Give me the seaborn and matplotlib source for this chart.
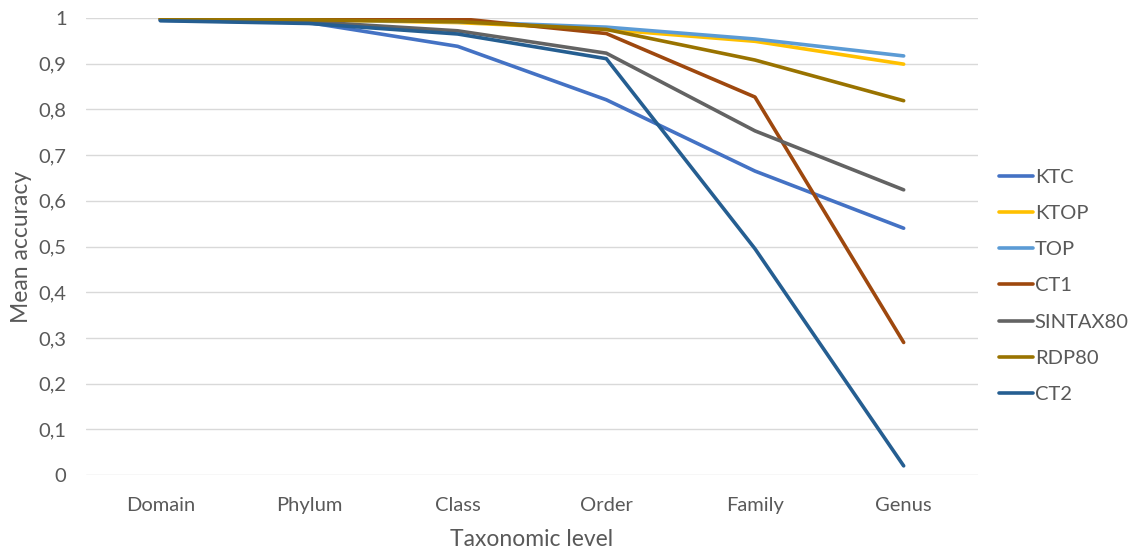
import matplotlib
matplotlib.use("Agg")
import matplotlib.pyplot as plt
import seaborn as sns
import pandas as pd
from matplotlib.ticker import FuncFormatter

levels = ["Domain", "Phylum", "Class", "Order", "Family", "Genus"]

ktc = [0.995, 0.990, 0.938, 0.821, 0.665, 0.540]
ktop = [0.998, 0.996, 0.990, 0.975, 0.949, 0.899]
top = [0.998, 0.996, 0.992, 0.980, 0.954, 0.917]
ct1 = [0.998, 0.997, 0.999, 0.966, 0.827, 0.290]
sintax80 = [0.996, 0.992, 0.972, 0.923, 0.753, 0.624]
rdp80 = [0.998, 0.996, 0.992, 0.975, 0.908, 0.819]
ct2 = [0.994, 0.988, 0.965, 0.911, 0.495, 0.020]

series = {
    "KTC": ktc,
    "KTOP": ktop,
    "TOP": top,
    "CT1": ct1,
    "SINTAX80": sintax80,
    "RDP80": rdp80,
    "CT2": ct2,
}
colors = ["#4472C4", "#FFC000", "#5B9BD5", "#9E480E", "#636363", "#997300", "#255E91"]

rows = []
for name, vals in series.items():
    for i, (lvl, v) in enumerate(zip(levels, vals)):
        rows.append({"pos": i, "level": lvl, "method": name, "acc": v})
df = pd.DataFrame(rows)

sns.set_theme(style="white")
plt.rcParams["font.family"] = ["Lato", "DejaVu Sans"]
text_color = "#595959"

fig = plt.figure(figsize=(11.34, 5.54), dpi=100)
ax = fig.add_axes([86 / 1134, 1 - 475 / 554, (978 - 86) / 1134, (475 - 18) / 554])

sns.lineplot(data=df, x="pos", y="acc", hue="method", hue_order=list(series.keys()),
             palette=colors, linewidth=2.6, ax=ax, legend=True, zorder=3)

ax.set_xlim(-0.5, 5.5)
ax.set_ylim(0, 1)
ax.set_xticks(range(len(levels)))
ax.set_xticklabels(levels)
ax.set_yticks([i / 10 for i in range(11)])
ax.yaxis.set_major_formatter(FuncFormatter(lambda v, p: "0" if v == 0 else ("1" if v == 1 else f"{v:.1f}".replace(".", ","))))
ax.grid(axis="y", color="#D9D9D9", linewidth=1, zorder=0)
for s in ax.spines.values():
    s.set_visible(False)
ax.tick_params(axis="both", length=0, labelsize=14.5, colors=text_color)
ax.tick_params(axis="x", pad=16)
ax.tick_params(axis="y", pad=14)
ax.set_xlabel("Taxonomic level", fontsize=16.5, color=text_color, labelpad=11)
ax.set_ylabel("Mean accuracy", fontsize=16.5, color=text_color, labelpad=5)

leg = ax.legend(loc="upper left", bbox_to_anchor=(1.015, 0.688), frameon=False,
                fontsize=14.5, handlelength=1.65, handletextpad=0.1, labelspacing=0.95,
                labelcolor=text_color, borderaxespad=0)
for line in leg.get_lines():
    line.set_linewidth(2.6)

fig.savefig("out.png", dpi=100)
